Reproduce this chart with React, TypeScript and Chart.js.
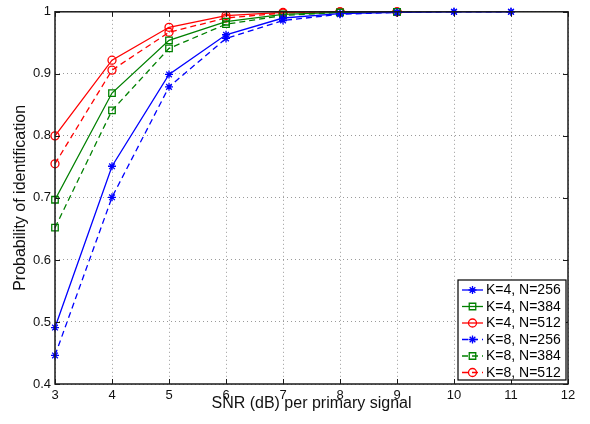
import React, { useEffect, useRef } from "react";
import { Chart, registerables } from "chart.js";

Chart.register(...registerables);

const snrK4N256 = [3, 4, 5, 6, 7, 8, 9, 10, 11];
const snrShort = [3, 4, 5, 6, 7, 8, 9];

const k4n256 = [0.491, 0.751, 0.899, 0.963, 0.990, 0.997, 0.999, 1.0, 1.0];
const k4n384 = [0.697, 0.869, 0.954, 0.984, 0.996, 0.999, 1.0];
const k4n512 = [0.8, 0.922, 0.975, 0.994, 0.999, 1.0, 1.0];
const k8n256 = [0.446, 0.701, 0.879, 0.957, 0.986, 0.996, 0.999, 1.0, 1.0];
const k8n384 = [0.652, 0.841, 0.941, 0.98, 0.994, 0.999, 1.0];
const k8n512 = [0.755, 0.906, 0.967, 0.99, 0.998, 1.0, 1.0];

const xTicks = [3, 4, 5, 6, 7, 8, 9, 10, 11, 12];
const yTicks = [0.4, 0.5, 0.6, 0.7, 0.8, 0.9, 1];

const FONT = "'Liberation Sans', Arial, Helvetica, sans-serif";
const BLUE = "#0000ff";
const GREEN = "#008000";
const RED = "#ff0000";

function pts(xs: number[], ys: number[]) {
  return ys.map((y, i) => ({ x: xs[i], y }));
}

function drawMarker(ctx: CanvasRenderingContext2D, style: string, x: number, y: number, r: number) {
  ctx.beginPath();
  if (style === "circle") {
    ctx.arc(x, y, r, 0, Math.PI * 2);
  } else if (style === "rect") {
    const s = r * Math.SQRT1_2;
    ctx.rect(x - s, y - s, 2 * s, 2 * s);
  } else {
    ctx.moveTo(x - r, y);
    ctx.lineTo(x + r, y);
    ctx.moveTo(x, y - r);
    ctx.lineTo(x, y + r);
    const d = r * Math.SQRT1_2;
    ctx.moveTo(x - d, y - d);
    ctx.lineTo(x + d, y + d);
    ctx.moveTo(x - d, y + d);
    ctx.lineTo(x + d, y - d);
  }
  ctx.stroke();
}

const framePlugin = {
  id: "matlabFrame",
  afterDatasetsDraw(chart: any) {
    const ctx = chart.ctx as CanvasRenderingContext2D;
    const a = chart.chartArea;
    const xs = chart.scales.x;
    const ys = chart.scales.y;
    ctx.save();
    ctx.strokeStyle = "#1a1a1a";
    ctx.lineWidth = 1;
    ctx.setLineDash([]);
    const tl = 5;
    ctx.beginPath();
    xTicks.forEach((v) => {
      const px = Math.round(xs.getPixelForValue(v)) + 0.5;
      ctx.moveTo(px, a.bottom);
      ctx.lineTo(px, a.bottom - tl);
      ctx.moveTo(px, a.top);
      ctx.lineTo(px, a.top + tl);
    });
    yTicks.forEach((v) => {
      const py = Math.round(ys.getPixelForValue(v)) + 0.5;
      ctx.moveTo(a.left, py);
      ctx.lineTo(a.left + tl, py);
      ctx.moveTo(a.right, py);
      ctx.lineTo(a.right - tl, py);
    });
    ctx.stroke();
    ctx.lineWidth = 1.5;
    ctx.strokeRect(a.left, a.top, a.right - a.left, a.bottom - a.top);
    ctx.restore();
  },
};

const legendPlugin = {
  id: "matlabLegend",
  afterDraw(chart: any) {
    const ctx = chart.ctx as CanvasRenderingContext2D;
    const a = chart.chartArea;
    const w = 108;
    const h = 100;
    const x0 = a.right - 110;
    const y0 = a.bottom - 104;
    ctx.save();
    ctx.fillStyle = "#ffffff";
    ctx.fillRect(x0, y0, w, h);
    ctx.strokeStyle = "#000000";
    ctx.lineWidth = 1.2;
    ctx.setLineDash([]);
    ctx.strokeRect(x0, y0, w, h);
    ctx.font = `14px ${FONT}`;
    ctx.textBaseline = "middle";
    ctx.textAlign = "left";
    chart.data.datasets.forEach((ds: any, i: number) => {
      const cy = y0 + 10 + i * 16.5;
      ctx.strokeStyle = ds.borderColor;
      ctx.lineWidth = 1.3;
      ctx.setLineDash(ds.borderDash || []);
      ctx.beginPath();
      ctx.moveTo(x0 + 4, cy);
      ctx.lineTo(x0 + 25, cy);
      ctx.stroke();
      ctx.setLineDash([]);
      drawMarker(ctx, ds.pointStyle, x0 + 14.5, cy, ds.pointStyle === "rect" ? 4.6 : 4);
      ctx.fillStyle = "#000000";
      ctx.fillText(ds.label, x0 + 28, cy + 0.5);
    });
    ctx.restore();
  },
};

export default function App() {
  const ref = useRef<HTMLCanvasElement>(null);
  useEffect(() => {
    if (!ref.current) return;
    const mk = (label: string, xs: number[], ys: number[], color: string, style: string, dashed: boolean) => ({
      label,
      data: pts(xs, ys),
      borderColor: color,
      backgroundColor: color,
      borderWidth: 1.3,
      borderDash: dashed ? [6, 4] : [],
      pointStyle: style,
      pointRadius: style === "rect" ? 4.6 : 4,
      pointBorderWidth: 1.3,
      pointBorderColor: color,
      pointBackgroundColor: "rgba(0,0,0,0)",
      tension: 0,
      clip: false as any,
    });
    const chart = new Chart(ref.current, {
      type: "line",
      data: {
        datasets: [
          mk("K=4, N=256", snrK4N256, k4n256, BLUE, "star", false),
          mk("K=4, N=384", snrShort, k4n384, GREEN, "rect", false),
          mk("K=4, N=512", snrShort, k4n512, RED, "circle", false),
          mk("K=8, N=256", snrK4N256, k8n256, BLUE, "star", true),
          mk("K=8, N=384", snrShort, k8n384, GREEN, "rect", true),
          mk("K=8, N=512", snrShort, k8n512, RED, "circle", true),
        ] as any,
      },
      options: {
        responsive: false,
        animation: false,
        layout: { padding: { left: 0, top: 7, right: 22, bottom: 0 } },
        plugins: { legend: { display: false }, tooltip: { enabled: false } },
        scales: {
          x: {
            type: "linear",
            min: 3,
            max: 12,
            afterFit: (s: any) => {
              s.height = 40;
            },
            afterBuildTicks: (s: any) => {
              s.ticks = xTicks.map((v) => ({ value: v }));
            },
            ticks: {
              padding: 4,
              color: "#111",
              font: { family: FONT, size: 13 },
              maxRotation: 0,
              callback: (v: any) => String(v),
            },
            grid: { color: "#9a9a9a", lineWidth: 1, drawTicks: false },
            border: { display: false, dash: [1, 3] },
            title: {
              display: true,
              text: "SNR (dB) per primary signal",
              color: "#111",
              font: { family: FONT, size: 16 },
              padding: { top: 0, bottom: 11 },
            },
          },
          y: {
            type: "linear",
            min: 0.4,
            max: 1,
            afterFit: (s: any) => {
              s.width = 55;
            },
            afterBuildTicks: (s: any) => {
              s.ticks = yTicks.map((v) => ({ value: v }));
            },
            ticks: {
              padding: 4,
              color: "#111",
              font: { family: FONT, size: 13 },
              callback: (v: any) => String(Math.round(Number(v) * 10) / 10),
            },
            grid: { color: "#9a9a9a", lineWidth: 1, drawTicks: false },
            border: { display: false, dash: [1, 3] },
            title: {
              display: true,
              text: "Probability of identification",
              color: "#111",
              font: { family: FONT, size: 16 },
              padding: { top: 11, bottom: 0 },
            },
          },
        },
      },
      plugins: [framePlugin, legendPlugin],
    });
    return () => chart.destroy();
  }, []);
  return (
    <div style={{ position: "fixed", left: 0, top: 0, width: 590, height: 424, background: "#fff" }}>
      <canvas ref={ref} width={590} height={424} style={{ display: "block" }} />
    </div>
  );
}
